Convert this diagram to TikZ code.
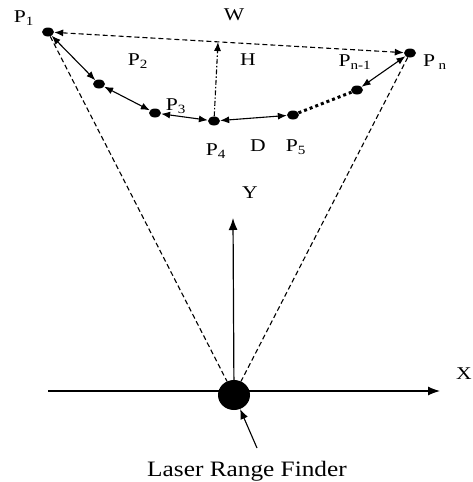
\documentclass[tikz,border=0pt]{standalone}
\usepackage{fontspec}
\usepackage{graphicx}
\setmainfont{Liberation Serif}
\usetikzlibrary{arrows.meta,shapes.geometric}
\newcommand{\hsx}[1]{\scalebox{1.2}[1]{#1}}
\begin{document}
\begin{tikzpicture}[x=1pt,y=-1pt,
  dot/.style={ellipse,fill=black,inner sep=0pt,minimum width=12pt,minimum height=9pt},
  lbl/.style={font=\fontsize{18}{20}\selectfont,inner sep=0pt},
  dbl/.style={{Latex[length=9pt,width=7pt]}-{Latex[length=9pt,width=7pt]},line width=1.1pt},
  tipa/.style={-{Latex[length=10pt,width=8pt]},line width=1.1pt},
  dsh/.style={dash pattern=on 5pt off 3pt,line width=1.1pt},
  ax/.style={line width=1.2pt,-{Latex[length=12pt,width=9pt]}}]
\useasboundingbox (0,0) rectangle (472,482);
% points
\node[dot] (p1) at (48,32) {};
\node[dot] (p2) at (99,84) {};
\node[dot] (p3) at (155,113) {};
\node[dot] (p4) at (214,121) {};
\node[dot] (p5) at (293,115) {};
\node[dot] (pm) at (357,90) {};
\node[dot] (pn) at (410,53) {};
\node[ellipse,fill=black,inner sep=0pt,minimum width=32pt,minimum height=30pt] (lrf) at (234,395) {};
% labels
\node[lbl] (l1) at (24,18) {\hsx{P\textsubscript{1}}};
\node[lbl] (l2) at (138,61) {\hsx{P\textsubscript{2}}};
\node[lbl] (l3) at (176,106) {\hsx{P\textsubscript{3}}};
\node[lbl] (l4) at (216,151) {\hsx{P\textsubscript{4}}};
\node[lbl] (l5) at (296,147) {\hsx{P\textsubscript{5}}};
\node[lbl] (lm) at (355,62) {\hsx{P\textsubscript{n-1}}};
\node[lbl] (ln) at (435,62) {\hsx{P\,\textsubscript{n}}};
\node[lbl] (lw) at (234,15) {\hsx{W}};
\node[lbl] (lh) at (248,60) {\hsx{H}};
\node[lbl] (ld) at (258,146) {\hsx{D}};
\node[lbl] (ly) at (250,193) {\hsx{Y}};
\node[lbl] (lx) at (464,374) {\hsx{X}};
\node[font=\fontsize{22}{24}\selectfont,inner sep=0pt] (lt) at (247,471) {\scalebox{1.15}[1]{Laser Range Finder}};
% coordinates
\coordinate (ht) at (218,42);
\coordinate (ytip) at (233,218);
\coordinate (xs) at (48,391);
\coordinate (xe) at (440,391);
\coordinate (as) at (257,448);
% W and H
\draw[dsh,{Latex[length=9pt,width=7pt]}-{Latex[length=9pt,width=7pt]}] (p1) -- (pn);
\draw[line width=1.1pt,dash pattern=on 5pt off 2pt on 1.5pt off 2pt,-{Latex[length=9pt,width=7pt]}] (p4) -- (ht);
% chain
\draw[dbl] (p1) -- (p2);
\draw[dbl] (p2) -- (p3);
\draw[dbl] (p3) -- (p4);
\draw[dbl] (p4) -- (p5);
\draw[line width=3pt,dash pattern=on 3pt off 3pt] (p5) -- (pm);
\draw[dbl] (pm) -- (pn);
% field of view
\draw[dsh] (p1) -- (lrf);
\draw[dsh] (pn) -- (lrf);
% axes
\draw[ax] (xs) -- (xe);
\draw[ax] (lrf) -- (ytip);
\draw[tipa] (as) -- (lrf);
\end{tikzpicture}
\end{document}
